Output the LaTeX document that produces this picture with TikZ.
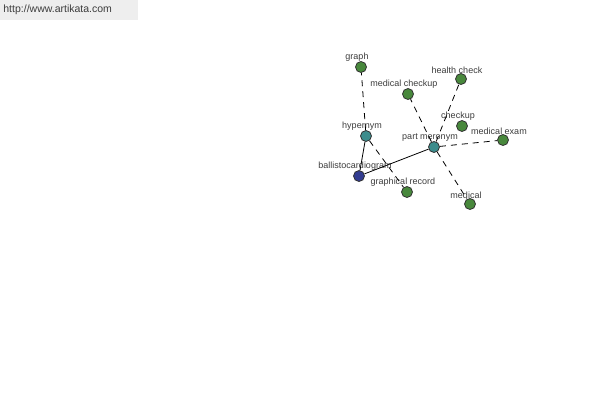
\documentclass[tikz,border=0pt]{standalone}
\usepackage{fontspec}
\setmainfont{Liberation Sans}
\usepackage{tikz}
\definecolor{leafgreen}{RGB}{72,136,60}
\definecolor{hubteal}{RGB}{60,140,140}
\definecolor{rootblue}{RGB}{50,60,145}
\definecolor{labelgray}{RGB}{60,60,60}
\definecolor{bannergray}{RGB}{238,238,238}
\tikzstyle{every node}=[circle, draw=black!80, inner sep=0pt, minimum width=11pt]
\tikzset{leaf/.style={fill=leafgreen},
  hub/.style={fill=hubteal},
  root/.style={fill=rootblue},
  lbl/.style={label={[rectangle, draw=none, inner sep=1pt, xshift=-4pt, label distance=-1.5pt, text=labelgray, font=\fontsize{9}{10}\selectfont]above:#1}},
  rel/.style={dashed, dash pattern=on 6pt off 5pt}}

\begin{document}
\begin{tikzpicture}[x=1pt, y=-1pt, line width=0.8pt]
    \useasboundingbox (0,0) rectangle (600,400);
    \fill[bannergray] (0,0) rectangle (138,20);
    \node[rectangle, draw=none, anchor=west, text=labelgray, font=\fontsize{10.5}{12}\selectfont] (site) at (3,10) {http://www.artikata.com};
    \node[root, lbl=ballistocardiogram] (bcg) at (359,176) {};
    \node[hub, lbl=hypernym] (hyper) at (366,136) {};
    \node[hub, lbl=part meronym] (part) at (434,147) {};
    \node[leaf, lbl=graph] (graph) at (361,67) {};
    \node[leaf, lbl=graphical record] (grec) at (407,192) {};
    \node[leaf, lbl=medical checkup] (mcheck) at (408,94) {};
    \node[leaf, lbl=health check] (hcheck) at (461,79) {};
    \node[leaf, lbl=checkup] (checkup) at (462,126) {};
    \node[leaf, lbl=medical exam] (mexam) at (503,140) {};
    \node[leaf, lbl=medical] (medical) at (470,204) {};
    \draw (bcg) -- (hyper);
    \draw (bcg) -- (part);
    \draw[rel] (hyper) -- (graph);
    \draw[rel] (hyper) -- (grec);
    \draw[rel] (part) -- (mcheck);
    \draw[rel] (part) -- (hcheck);
    \draw[rel] (part) -- (mexam);
    \draw[rel] (part) -- (medical);
  \end{tikzpicture}
\end{document}
